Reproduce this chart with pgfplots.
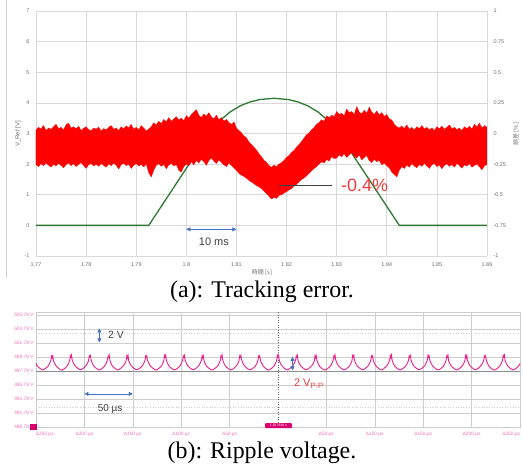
\documentclass[border=0pt]{standalone}
\usepackage{fontspec}
\setmainfont{Liberation Serif}
\newfontfamily\sans{Liberation Sans}
\newfontfamily\jp{Noto Sans CJK JP}
\usepackage{pgfplots}
\pgfplotsset{compat=1.18}
\usetikzlibrary{arrows.meta}

\definecolor{gridgray}{RGB}{217,217,217}
\definecolor{ticktext}{RGB}{110,110,110}
\definecolor{refgreen}{RGB}{46,120,50}
\definecolor{errred}{RGB}{255,0,0}
\definecolor{annred}{RGB}{240,60,60}
\definecolor{arrblue}{RGB}{68,114,196}
\definecolor{darktext}{RGB}{64,64,64}
\definecolor{scopepink}{RGB}{236,32,138}
\definecolor{scopelab}{RGB}{240,110,180}
\definecolor{scopemark}{RGB}{214,0,110}
\definecolor{scopegrid}{RGB}{205,205,205}

\begin{document}
\begin{tikzpicture}
\useasboundingbox (0,0) rectangle (523bp,-472bp);
\draw[gray!35, line width=0.5pt] (6bp,0) -- (6bp,-278bp);

% ---------- (a) tracking error ----------
\begin{axis}[
    at={(36bp,-256bp)}, anchor=south west,
    scale only axis, width=451bp, height=245bp,
    xmin=1.77, xmax=1.86, ymin=-1, ymax=7,
    xtick={1.77,1.78,1.79,1.80,1.81,1.82,1.83,1.84,1.85,1.86},
    xticklabels={1.77,1.78,1.79,1.8,1.81,1.82,1.83,1.84,1.85,1.86},
    ytick={-1,0,1,2,3,4,5,6,7},
    grid=major, grid style={gridgray, line width=0.6pt},
    axis line style={draw=none}, major tick length=0pt,
    tick label style={font=\sans\fontsize{5.5}{6}\selectfont, text=ticktext},
    yticklabel style={xshift=-3bp},
    xticklabel style={yshift=-3bp},
    /pgf/number format/assume math mode=true,
]
\addplot[refgreen, line width=1.3pt] coordinates {
  (1.77,0) (1.7925,0) (1.8047,3.03) (1.8067,3.42) (1.8087,3.70) (1.8107,3.90)
  (1.8127,4.03) (1.8147,4.11) (1.8175,4.15) (1.8203,4.11) (1.8223,4.03)
  (1.8243,3.90) (1.8263,3.70) (1.8283,3.42) (1.8303,3.03) (1.8425,0) (1.86,0)
};
% error band: upper envelope left to right, then lower envelope right to left
\addplot[errred, fill=errred, line width=0.3pt] coordinates {
  (1.7700,3.12) (1.7705,3.20) (1.7710,3.15) (1.7715,3.26) (1.7720,3.10) (1.7725,3.18)
  (1.7730,3.14) (1.7735,3.22) (1.7740,3.30) (1.7745,3.16) (1.7750,3.20) (1.7755,3.12)
  (1.7760,3.28) (1.7765,3.34) (1.7770,3.18) (1.7775,3.22) (1.7780,3.15) (1.7785,3.24)
  (1.7790,3.10) (1.7795,3.17) (1.7800,3.22) (1.7805,3.13) (1.7810,3.09) (1.7815,3.18)
  (1.7820,3.14) (1.7825,3.21) (1.7830,3.08) (1.7835,3.16) (1.7840,3.12) (1.7845,3.20)
  (1.7850,3.26) (1.7855,3.14) (1.7860,3.18) (1.7865,3.10) (1.7870,3.22) (1.7875,3.15)
  (1.7880,3.25) (1.7885,3.18) (1.7890,3.30) (1.7895,3.14) (1.7900,3.20) (1.7905,3.12)
  (1.7910,3.26) (1.7915,3.18) (1.7920,3.08) (1.7925,3.15) (1.7930,3.22) (1.7935,3.35)
  (1.7940,3.28) (1.7945,3.40) (1.7950,3.32) (1.7955,3.46) (1.7960,3.38) (1.7965,3.52)
  (1.7970,3.40) (1.7975,3.48) (1.7980,3.55) (1.7985,3.44) (1.7990,3.50) (1.7995,3.42)
  (1.8000,3.58) (1.8005,3.50) (1.8010,3.62) (1.8015,3.70) (1.8020,3.78) (1.8025,3.60)
  (1.8030,3.52) (1.8035,3.64) (1.8040,3.56) (1.8045,3.68) (1.8050,3.54) (1.8055,3.48)
  (1.8060,3.60) (1.8065,3.45) (1.8070,3.52) (1.8075,3.40) (1.8080,3.46) (1.8085,3.36)
  (1.8090,3.30) (1.8095,3.38) (1.8100,3.18) (1.8105,3.10) (1.8110,3.02) (1.8115,2.92)
  (1.8120,2.86) (1.8125,2.72) (1.8130,2.64) (1.8135,2.55) (1.8140,2.46) (1.8145,2.34)
  (1.8150,2.24) (1.8155,2.12) (1.8160,2.06) (1.8165,1.95) (1.8170,1.90) (1.8175,1.96)
  (1.8180,1.92) (1.8185,2.00) (1.8190,2.05) (1.8195,2.12) (1.8200,2.22) (1.8205,2.28)
  (1.8210,2.38) (1.8215,2.45) (1.8220,2.56) (1.8225,2.64) (1.8230,2.74) (1.8235,2.85)
  (1.8240,2.96) (1.8245,3.02) (1.8250,3.12) (1.8255,3.20) (1.8260,3.30) (1.8265,3.36)
  (1.8270,3.45) (1.8275,3.40) (1.8280,3.58) (1.8285,3.52) (1.8290,3.60) (1.8295,3.55)
  (1.8300,3.72) (1.8305,3.62) (1.8310,3.66) (1.8315,3.58) (1.8320,3.80) (1.8325,3.68)
  (1.8330,3.72) (1.8335,3.62) (1.8340,3.88) (1.8345,3.70) (1.8350,3.64) (1.8355,3.76)
  (1.8360,3.66) (1.8365,3.86) (1.8370,3.70) (1.8375,3.62) (1.8380,3.74) (1.8385,3.60)
  (1.8390,3.68) (1.8395,3.56) (1.8400,3.62) (1.8405,3.48) (1.8410,3.44) (1.8415,3.30)
  (1.8420,3.22) (1.8425,3.18) (1.8430,3.24) (1.8435,3.16) (1.8440,3.28) (1.8445,3.14)
  (1.8450,3.20) (1.8455,3.12) (1.8460,3.22) (1.8465,3.16) (1.8470,3.26) (1.8475,3.15)
  (1.8480,3.20) (1.8485,3.12) (1.8490,3.18) (1.8495,3.10) (1.8500,3.22) (1.8505,3.16)
  (1.8510,3.24) (1.8515,3.14) (1.8520,3.20) (1.8525,3.28) (1.8530,3.15) (1.8535,3.20)
  (1.8540,3.12) (1.8545,3.18) (1.8550,3.10) (1.8555,3.22) (1.8560,3.16) (1.8565,3.24)
  (1.8570,3.14) (1.8575,3.30) (1.8580,3.22) (1.8585,3.34) (1.8590,3.18) (1.8595,3.26)
  (1.8600,3.20)
  (1.8600,1.98) (1.8595,1.95) (1.8590,1.82) (1.8585,1.91) (1.8580,2.00) (1.8575,1.96)
  (1.8570,1.90) (1.8565,2.02) (1.8560,1.94) (1.8555,1.98) (1.8550,1.87) (1.8545,1.95)
  (1.8540,2.03) (1.8535,1.90) (1.8530,1.99) (1.8525,1.93) (1.8520,2.01) (1.8515,1.96)
  (1.8510,1.85) (1.8505,1.97) (1.8500,1.92) (1.8495,2.02) (1.8490,1.98) (1.8485,1.86)
  (1.8480,1.95) (1.8475,2.03) (1.8470,1.93) (1.8465,1.99) (1.8460,1.88) (1.8455,1.94)
  (1.8450,2.02) (1.8445,1.90) (1.8440,1.97) (1.8435,1.86) (1.8430,1.92) (1.8425,1.80)
  (1.8420,1.58) (1.8415,1.66) (1.8410,1.74) (1.8405,1.88) (1.8400,1.95) (1.8395,2.04)
  (1.8390,1.98) (1.8385,2.12) (1.8380,2.08) (1.8375,2.16) (1.8370,2.05) (1.8365,2.12)
  (1.8360,2.28) (1.8355,2.22) (1.8350,2.14) (1.8345,2.30) (1.8340,2.20) (1.8335,2.26)
  (1.8330,2.38) (1.8325,2.30) (1.8320,2.22) (1.8315,2.34) (1.8310,2.24) (1.8305,2.30)
  (1.8300,2.20) (1.8295,2.18) (1.8290,2.25) (1.8285,2.10) (1.8280,2.15) (1.8275,2.04)
  (1.8270,2.08) (1.8265,2.00) (1.8260,1.92) (1.8255,1.86) (1.8250,1.78) (1.8245,1.70)
  (1.8240,1.62) (1.8235,1.55) (1.8230,1.50) (1.8225,1.42) (1.8220,1.34) (1.8215,1.28)
  (1.8210,1.20) (1.8205,1.16) (1.8200,1.10) (1.8195,1.06) (1.8190,1.00) (1.8185,0.98)
  (1.8180,0.88) (1.8175,0.92) (1.8170,0.86) (1.8165,0.95) (1.8160,1.04) (1.8155,1.12)
  (1.8150,1.20) (1.8145,1.26) (1.8140,1.30) (1.8135,1.36) (1.8130,1.42) (1.8125,1.47)
  (1.8120,1.54) (1.8115,1.60) (1.8110,1.64) (1.8105,1.70) (1.8100,1.80) (1.8095,1.88)
  (1.8090,1.96) (1.8085,2.04) (1.8080,1.92) (1.8075,1.98) (1.8070,2.06) (1.8065,2.14)
  (1.8060,2.02) (1.8055,2.10) (1.8050,2.20) (1.8045,2.12) (1.8040,1.96) (1.8035,2.08)
  (1.8030,2.16) (1.8025,2.04) (1.8020,2.12) (1.8015,1.98) (1.8010,2.08) (1.8005,1.95)
  (1.8000,2.00) (1.7995,1.92) (1.7990,1.74) (1.7985,1.80) (1.7980,1.99) (1.7975,1.94)
  (1.7970,2.03) (1.7965,1.97) (1.7960,1.85) (1.7955,1.99) (1.7950,1.93) (1.7945,2.02)
  (1.7940,1.96) (1.7935,1.80) (1.7930,1.58) (1.7925,1.72) (1.7920,2.01) (1.7915,1.91)
  (1.7910,1.99) (1.7905,1.94) (1.7900,2.02) (1.7895,1.96) (1.7890,1.86) (1.7885,2.00)
  (1.7880,1.95) (1.7875,2.03) (1.7870,1.98) (1.7865,1.84) (1.7860,1.97) (1.7855,2.04)
  (1.7850,1.95) (1.7845,2.01) (1.7840,1.90) (1.7835,1.96) (1.7830,2.02) (1.7825,1.93)
  (1.7820,2.00) (1.7815,1.94) (1.7810,2.03) (1.7805,1.98) (1.7800,1.86) (1.7795,1.96)
  (1.7790,2.05) (1.7785,1.99) (1.7780,1.92) (1.7775,2.02) (1.7770,1.95) (1.7765,2.04)
  (1.7760,1.99) (1.7755,1.88) (1.7750,1.96) (1.7745,2.03) (1.7740,1.94) (1.7735,2.00)
  (1.7730,1.90) (1.7725,1.97) (1.7720,2.04) (1.7715,1.95) (1.7710,2.02) (1.7705,1.92)
  (1.7700,1.98)
} -- cycle;
% annotations
\draw[{Triangle[length=4bp,width=4bp]}-{Triangle[length=4bp,width=4bp]}, arrblue, line width=0.6pt]
  (axis cs:1.80,-0.13) -- (axis cs:1.81,-0.13);
\node[font=\sans\fontsize{11}{12}\selectfont, text=darktext] at (axis cs:1.8055,-0.55) {10 ms};
\draw[black!75, line width=1.1pt] (axis cs:1.8184,1.3) -- (axis cs:1.8291,1.3);
\node[font=\sans\fontsize{18}{20}\selectfont, text=annred, anchor=west] at (axis cs:1.8302,1.3) {-0.4\%};
\end{axis}

\begin{axis}[
    at={(36bp,-256bp)}, anchor=south west,
    scale only axis, width=451bp, height=245bp,
    xmin=1.77, xmax=1.86, ymin=-1, ymax=1,
    axis x line=none, axis y line*=right,
    axis line style={draw=none}, major tick length=0pt,
    ytick={-1,-0.75,-0.5,-0.25,0,0.25,0.5,0.75,1},
    yticklabels={-1,-0.75,-0.5,-0.25,0,0.25,0.5,0.75,1},
    tick label style={font=\sans\fontsize{5.5}{6}\selectfont, text=ticktext},
    yticklabel style={xshift=3bp},
]
\addplot[draw=none] coordinates {(1.77,-1) (1.86,1)};
\end{axis}

\node[rotate=90, font=\sans\fontsize{6}{7}\selectfont, text=ticktext] at (18bp,-134bp) {V\_Ref [V]};
\node[rotate=90, font=\jp\fontsize{6}{7}\selectfont, text=ticktext] at (516bp,-134bp) {誤差 [\%]};
\node[font=\jp\fontsize{6}{7}\selectfont, text=ticktext] at (262bp,-272bp) {時間 [s]};

% ---------- (b) ripple voltage ----------
\begin{axis}[
    at={(36bp,-427.3bp)}, anchor=south west,
    scale only axis, width=484bp, height=115bp,
    xmin=-250, xmax=250, ymin=489.78, ymax=506.2,
    xtick={-250,-200,-150,-100,-50,50,100,150,200,250},
    xticklabels={\rlap{Δ250 µs},Δ200 µs,Δ150 µs,Δ100 µs,Δ50 µs,Δ50 µs,Δ100 µs,Δ150 µs,Δ200 µs,\llap{Δ250 µs}},
    ytick={489.78,491.78,493.78,495.78,497.78,499.78,501.78,503.78,505.78},
    yticklabels={489.78 V,491.78 V,493.78 V,495.78 V,497.78 V,499.78 V,501.78 V,503.78 V,505.78 V},
    extra x ticks={0}, extra x tick labels={},
    extra x tick style={grid style={black!60, dotted, line width=0.6pt}},
    extra y ticks={497.78}, extra y tick labels={},
    extra y tick style={grid style={black!45, line width=0.6pt}},
    grid=major, grid style={scopegrid, line width=0.5pt},
    axis line style={scopegrid, line width=0.6pt}, major tick length=0pt,
    tick label style={font=\sans\fontsize{4.8}{5}\selectfont, text=scopelab},
    yticklabel style={xshift=1bp},
    xticklabel style={yshift=-1bp},
]
\draw[scopegrid, dotted, line width=0.6pt] (axis cs:-250,503.25) -- (axis cs:250,503.25);
\draw[scopegrid, dotted, line width=0.6pt] (axis cs:-250,492.7) -- (axis cs:250,492.7);
\addplot[scopepink, line width=0.9pt, smooth, tension=0.45] coordinates {
  (-252.72,499.8) (-252.12,500.05) (-251.42,499.35) (-248.72,498.55) (-243.02,497.98) (-237.32,498.55) (-234.62,499.35) (-233.92,499.95)
  (-233.28,499.75) (-232.68,500.0) (-231.98,499.3) (-229.28,498.55) (-223.58,497.95) (-217.88,498.5) (-215.18,499.35) (-214.48,500.0)
  (-213.84,499.8) (-213.24,500.1) (-212.54,499.35) (-209.84,498.6) (-204.14,498.0) (-198.44,498.55) (-195.74,499.3) (-195.04,499.95)
  (-194.40,499.85) (-193.80,500.05) (-193.10,499.4) (-190.40,498.55) (-184.70,497.97) (-179.00,498.55) (-176.30,499.35) (-175.60,499.9)
  (-174.96,499.8) (-174.36,500.1) (-173.66,499.35) (-170.96,498.5) (-165.26,497.98) (-159.56,498.6) (-156.86,499.3) (-156.16,500.0)
  (-155.52,499.75) (-154.92,500.05) (-154.22,499.3) (-151.52,498.55) (-145.82,498.0) (-140.12,498.55) (-137.42,499.35) (-136.72,499.95)
  (-136.08,499.8) (-135.48,500.0) (-134.78,499.35) (-132.08,498.6) (-126.38,497.96) (-120.68,498.5) (-117.98,499.3) (-117.28,500.05)
  (-116.64,499.85) (-116.04,500.1) (-115.34,499.4) (-112.64,498.55) (-106.94,497.98) (-101.24,498.55) (-98.54,499.35) (-97.84,499.95)
  (-97.20,499.8) (-96.60,500.05) (-95.90,499.35) (-93.20,498.55) (-87.50,498.0) (-81.80,498.6) (-79.10,499.35) (-78.40,500.0)
  (-77.76,499.75) (-77.16,500.0) (-76.46,499.3) (-73.76,498.5) (-68.06,497.97) (-62.36,498.55) (-59.66,499.3) (-58.96,499.95)
  (-58.32,499.8) (-57.72,500.1) (-57.02,499.35) (-54.32,498.55) (-48.62,497.98) (-42.92,498.55) (-40.22,499.35) (-39.52,500.0)
  (-38.88,499.85) (-38.28,500.05) (-37.58,499.4) (-34.88,498.6) (-29.18,498.0) (-23.48,498.5) (-20.78,499.3) (-20.08,499.95)
  (-19.44,499.8) (-18.84,500.0) (-18.14,499.35) (-15.44,498.55) (-9.74,497.96) (-4.04,498.55) (-1.34,499.35) (-0.64,500.05)
  (0,499.85) (0.6,500.1) (1.3,499.35) (4.0,498.55) (9.7,497.98) (15.4,498.6) (18.1,499.35) (18.8,499.95)
  (19.44,499.8) (20.04,500.05) (20.74,499.3) (23.44,498.55) (29.14,498.0) (34.84,498.55) (37.54,499.3) (38.24,500.0)
  (38.88,499.75) (39.48,500.0) (40.18,499.35) (42.88,498.5) (48.58,497.97) (54.28,498.55) (56.98,499.35) (57.68,499.95)
  (58.32,499.8) (58.92,500.1) (59.62,499.4) (62.32,498.6) (68.02,497.98) (73.72,498.5) (76.42,499.3) (77.12,500.05)
  (77.76,499.85) (78.36,500.05) (79.06,499.35) (81.76,498.55) (87.46,498.0) (93.16,498.55) (95.86,499.35) (96.56,499.95)
  (97.20,499.8) (97.80,500.0) (98.50,499.3) (101.20,498.55) (106.90,497.96) (112.60,498.6) (115.30,499.35) (116.00,500.0)
  (116.64,499.75) (117.24,500.1) (117.94,499.35) (120.64,498.5) (126.34,497.98) (132.04,498.55) (134.74,499.3) (135.44,499.95)
  (136.08,499.8) (136.68,500.05) (137.38,499.4) (140.08,498.55) (145.78,498.0) (151.48,498.55) (154.18,499.35) (154.88,500.05)
  (155.52,499.85) (156.12,500.0) (156.82,499.35) (159.52,498.6) (165.22,497.97) (170.92,498.5) (173.62,499.35) (174.32,499.95)
  (174.96,499.8) (175.56,500.1) (176.26,499.3) (178.96,498.55) (184.66,497.98) (190.36,498.55) (193.06,499.3) (193.76,500.0)
  (194.40,499.75) (195.00,500.05) (195.70,499.35) (198.40,498.55) (204.10,498.0) (209.80,498.6) (212.50,499.35) (213.20,499.95)
  (213.84,499.8) (214.44,500.0) (215.14,499.4) (217.84,498.5) (223.54,497.96) (229.24,498.55) (231.94,499.35) (232.64,500.05)
  (233.28,499.85) (233.88,500.1) (234.58,499.35) (237.28,498.55) (242.98,497.98) (248.68,498.55) (251.38,499.3) (252.08,499.95)
  (252.72,499.8)
};
% annotations
\draw[{Triangle[length=4bp,width=4bp]}-{Triangle[length=4bp,width=4bp]}, arrblue, line width=0.6pt]
  (axis cs:-184.5,503.9) -- (axis cs:-184.5,501.9);
\node[font=\sans\fontsize{10.5}{12}\selectfont, text=darktext, anchor=west] at (axis cs:-179,502.95) {2 V};
\draw[{Triangle[length=4bp,width=4bp]}-{Triangle[length=4bp,width=4bp]}, arrblue, line width=0.6pt]
  (axis cs:-200,494.55) -- (axis cs:-150,494.55);
\node[font=\sans\fontsize{10}{12}\selectfont, text=darktext] at (axis cs:-173.5,492.4) {50 µs};
\draw[{Triangle[length=4bp,width=4bp]}-{Triangle[length=4bp,width=4bp]}, arrblue, line width=0.6pt]
  (axis cs:15,499.85) -- (axis cs:15,497.9);
\node[font=\sans\fontsize{11}{12}\selectfont, text=annred, anchor=west] at (axis cs:13,496.0) {2 V\textsubscript{P-P}};
\end{axis}

\fill[scopemark] (30bp,-424bp) rectangle (37bp,-430bp);
\node[fill=scopemark, rounded corners=1bp, inner sep=0.6bp, minimum width=27bp, minimum height=5bp,
      font=\sans\fontsize{3.5}{4}\selectfont, text=white] at (278.5bp,-425.5bp) {1.817818 s};

% captions
\node[font=\fontsize{24}{28}\selectfont] at (262bp,-292bp) {(a): Tracking error.};
\node[font=\fontsize{24}{28}\selectfont] at (262bp,-453bp) {(b): Ripple voltage.};
\end{tikzpicture}
\end{document}
